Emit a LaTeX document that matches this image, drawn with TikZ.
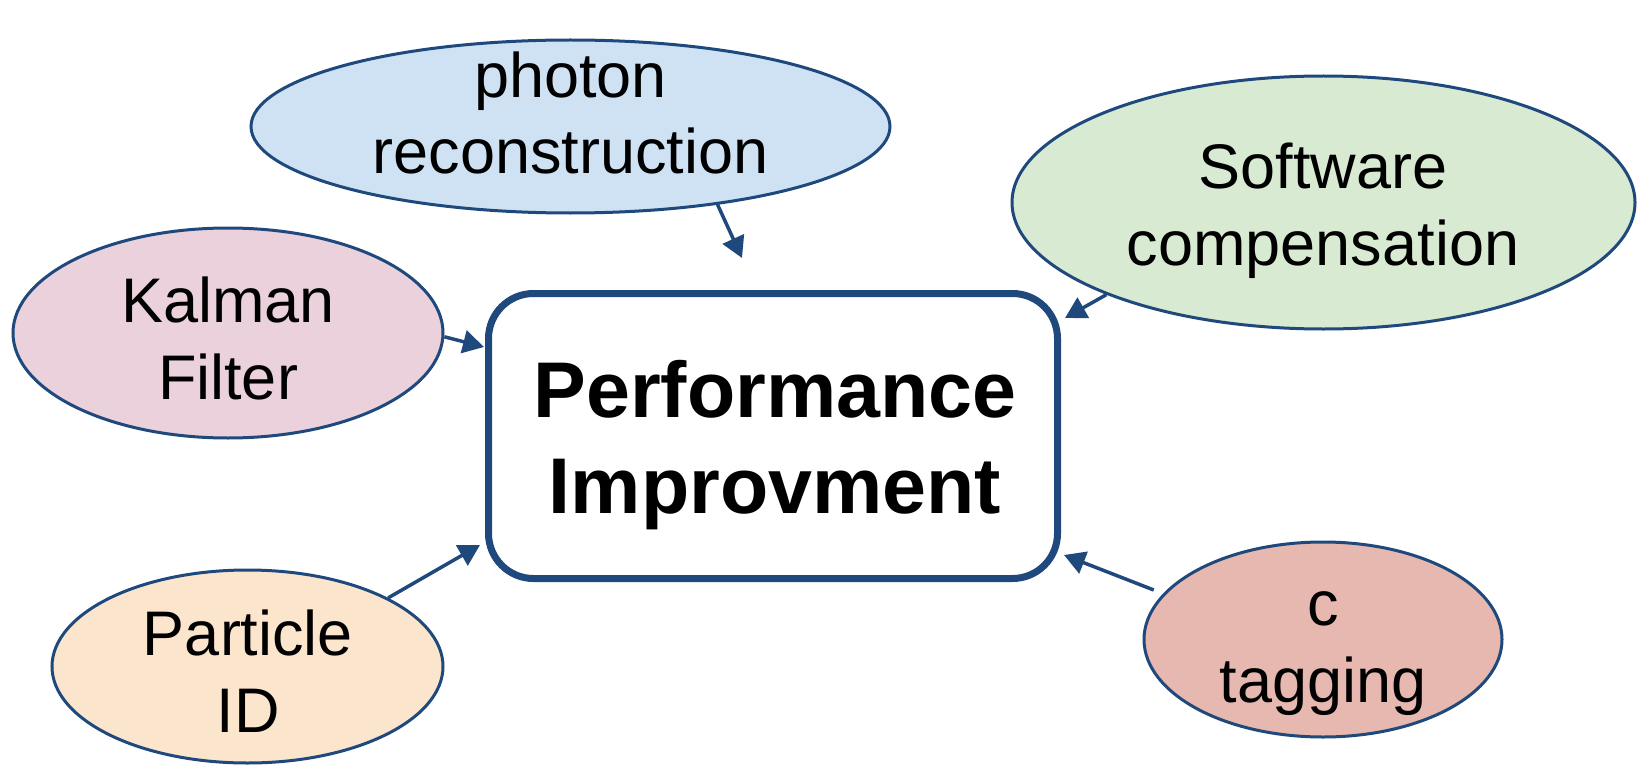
\documentclass[tikz,border=0pt]{standalone}
\usepackage{fontspec}
\setmainfont{Liberation Sans}
\usetikzlibrary{arrows.meta,shapes.geometric}
\definecolor{navy}{HTML}{1F497D}
\definecolor{fblue}{HTML}{CFE2F3}
\definecolor{fgreen}{HTML}{D9EAD3}
\definecolor{fpink}{HTML}{EAD1DC}
\definecolor{forange}{HTML}{FCE5CD}
\definecolor{fred}{HTML}{E6B8AF}
\tikzset{
  oval/.style={ellipse, draw=navy, line width=3pt, inner sep=0pt},
  ovaltext/.style={align=center, inner sep=0pt, font=\fontsize{63}{77}\selectfont},
  mainbox/.style={draw=navy, line width=7pt, rounded corners=45pt, fill=white,
    minimum width=569pt, minimum height=285pt, inner sep=0pt},
  maintext/.style={align=center, inner sep=0pt, font=\fontsize{79}{96}\selectfont\bfseries},
  conn/.style={draw=navy, line width=3.5pt, -{Triangle[length=21pt,width=23pt]}}
}
\begin{document}
\begin{tikzpicture}[x=1pt,y=-1pt]
\useasboundingbox (0,0) rectangle (1641,765);
% ellipses
\node[oval, fill=fblue, minimum width=639pt, minimum height=173pt] (ph) at (570.5,126.5) {};
\node[oval, fill=fgreen, minimum width=623pt, minimum height=253pt] (sw) at (1323.5,202.5) {};
\node[oval, fill=fpink, minimum width=430pt, minimum height=210pt] (kf) at (228,333) {};
\node[oval, fill=forange, minimum width=391pt, minimum height=193pt] (pid) at (247.5,666.5) {};
\node[oval, fill=fred, minimum width=358pt, minimum height=195pt] (ct) at (1323,639.5) {};
% texts
\node[ovaltext] (phT) at (570.5,120.1) {\strut photon\\\strut reconstruction};
\node[ovaltext] (swT) at (1323,211.1) {\strut Software\\\strut compensation};
\node[ovaltext] (kfT) at (228,345.1) {\strut Kalman\\\strut Filter};
\node[ovaltext] (pidT) at (248,678.1) {\strut Particle\\\strut ID};
\node[ovaltext] (ctT) at (1323,648.1) {\strut c\\\strut tagging};
% main box
\node[mainbox] (box) at (773,436) {};
\node[maintext] (boxT) at (775,445.8) {\strut Performance\\\strut Improvment};
% arrow ends
\coordinate (ePh) at (742,258);
\coordinate (eKf) at (484,347);
\coordinate (ePid) at (480,545);
\coordinate (eSw) at (1065,318);
\coordinate (eCt) at (1064,555);
% connectors
\draw[conn] (ph.-28.4) -- (ePh);
\draw[conn] (kf.-1) -- (eKf);
\draw[conn] (pid.26.5) -- (ePid);
\draw[conn] (sw.-157.2) -- (eSw);
\draw[conn, shorten <=10pt] (ct.164.7) -- (eCt);
\end{tikzpicture}
\end{document}
